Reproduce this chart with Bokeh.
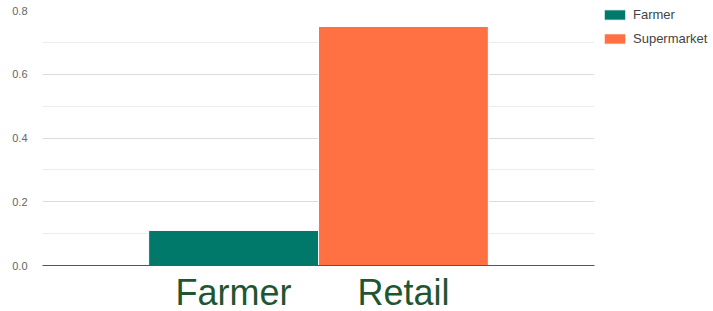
from bokeh.plotting import figure
from bokeh.models import (ColumnDataSource, FactorRange, Range1d, Legend, LegendItem,
                          SingleIntervalTicker, PrintfTickFormatter)
from bokeh.embed import file_html
from bokeh.resources import INLINE

categories = ["Farmer", "Retail"]
series = ["Farmer", "Supermarket"]
values = [0.11, 0.75]
colors = ["#00796b", "#ff7043"]

src = ColumnDataSource(dict(x=categories, top=values, color=colors, series=series))

p = figure(frame_width=552, frame_height=255, output_backend="svg", toolbar_location=None,
           x_range=FactorRange(factors=categories, range_padding=0.625, range_padding_units="absolute"),
           y_range=Range1d(0, 0.8),
           min_border_top=10, min_border_left=42, min_border_right=119, min_border_bottom=0)
p.outline_line_color = None

r = p.vbar(x="x", top="top", width=1.0, color="color", line_color="white", line_width=1, source=src)

# y axis
p.yaxis.ticker = SingleIntervalTicker(interval=0.2, num_minor_ticks=2)
p.yaxis.formatter = PrintfTickFormatter(format="%.1f")
p.yaxis.major_tick_line_color = None
p.yaxis.minor_tick_line_color = None
p.yaxis.axis_line_color = None
p.yaxis.major_label_text_font = "Liberation Sans"
p.yaxis.major_label_text_font_size = "11px"
p.yaxis.major_label_text_color = "#666666"
p.yaxis.major_label_standoff = 9
p.ygrid.grid_line_color = "#dcdcdc"
p.ygrid.minor_grid_line_color = "#ececec"
p.xgrid.grid_line_color = None

# x axis with category labels
p.xaxis.major_tick_line_color = None
p.xaxis.minor_tick_line_color = None
p.xaxis.axis_line_color = "#555555"
p.xaxis.major_label_text_font = "Liberation Sans"
p.xaxis.major_label_text_font_size = "36px"
p.xaxis.major_label_text_color = "#1e5631"
p.xaxis.major_label_standoff = 0

items = [LegendItem(label=s, renderers=[r], index=i) for i, s in enumerate(series)]
legend = Legend(items=items, location=(7, 219), margin=0, padding=0,
                glyph_width=27, glyph_height=13, label_standoff=5, spacing=9,
                label_text_font="Liberation Sans", label_text_font_size="13px",
                label_text_color="#444444", border_line_color=None,
                background_fill_alpha=0, label_height=13)
p.add_layout(legend, "right")

open("out.html", "w").write(file_html(p, INLINE))
